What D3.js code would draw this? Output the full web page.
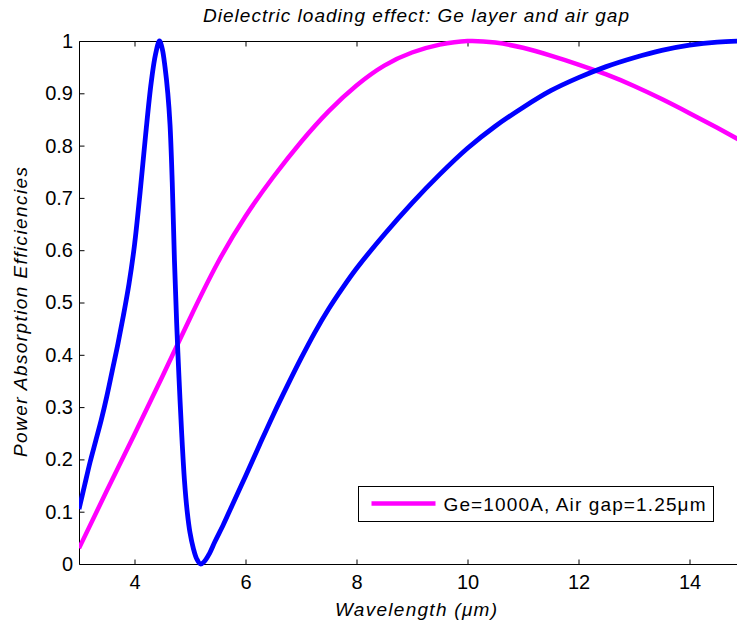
<!DOCTYPE html>
<html>
<head>
<meta charset="utf-8">
<script src="https://cdn.jsdelivr.net/npm/d3@7"></script>
<style>
  html, body { margin: 0; padding: 0; background: #fff; }
  svg { display: block; }
  text { font-family: "Liberation Sans", Arial, sans-serif; fill: #000; }
</style>
</head>
<body>
<svg id="chart" width="737" height="622"></svg>
<script>
// Wavelength samples (µm) and absorption efficiencies of the two structures
const blueX = [3.0, 3.1, 3.2, 3.3, 3.4, 3.5, 3.6, 3.7, 3.8, 3.9, 4.0, 4.1, 4.2, 4.3, 4.38, 4.45, 4.5, 4.55, 4.6, 4.64,
  4.68, 4.72, 4.76, 4.8, 4.85, 4.9, 4.95, 5.0, 5.06, 5.12, 5.19, 5.26, 5.35, 5.45, 5.6, 5.75, 6.0, 6.25, 6.5, 6.75,
  7.0, 7.25, 7.5, 7.75, 8.0, 8.5, 9.0, 9.5, 10.0, 10.5, 11.0, 11.5, 12.0, 12.5, 13.0, 13.5, 14.0, 14.5, 15.0];
const blueY = [0.105, 0.15, 0.195, 0.235, 0.275, 0.32, 0.37, 0.42, 0.475, 0.535, 0.61, 0.71, 0.82, 0.92, 0.975, 1.0,
  0.985, 0.95, 0.9, 0.84, 0.73, 0.58, 0.46, 0.36, 0.25, 0.16, 0.1, 0.06, 0.03, 0.01, 0.0, 0.005, 0.02, 0.043, 0.075,
  0.11, 0.168, 0.227, 0.285, 0.34, 0.393, 0.443, 0.488, 0.528, 0.565, 0.63, 0.69, 0.745, 0.795, 0.837, 0.873, 0.905,
  0.93, 0.951, 0.968, 0.982, 0.992, 0.998, 1.0];

const magX = [3.0, 3.5, 4.0, 4.5, 5.0, 5.5, 6.0, 6.5, 7.0, 7.5, 8.0, 8.5, 9.0, 9.5, 10.0, 10.5, 11.0, 11.5, 12.0,
  12.5, 13.0, 13.5, 14.0, 14.5, 15.0];
const magY = [0.03, 0.14, 0.248, 0.358, 0.47, 0.576, 0.665, 0.74, 0.807, 0.866, 0.915, 0.953, 0.978, 0.993, 1.0, 0.997,
  0.987, 0.972, 0.955, 0.936, 0.914, 0.889, 0.862, 0.834, 0.805];

const xTicks = [4, 6, 8, 10, 12, 14];
const yTicks = [0, 0.1, 0.2, 0.3, 0.4, 0.5, 0.6, 0.7, 0.8, 0.9, 1];

const titleText = "Dielectric loading effect: Ge layer and air gap";
const xLabel = "Wavelength (\u03bcm)";
const yLabel = "Power Absorption Efficiencies";
const legendLabel = "Ge=1000A, Air gap=1.25\u03bcm";

const svg = d3.select("#chart");
const plotL = 79, plotR = 745, plotT = 41, plotB = 564;

const x = d3.scaleLinear().domain([3, 15]).range([plotL, plotR]);
const y = d3.scaleLinear().domain([0, 1]).range([plotB, plotT]);

svg.append("defs").append("clipPath").attr("id", "plotclip")
  .append("rect").attr("x", plotL).attr("y", plotT - 3).attr("width", plotR - plotL).attr("height", plotB - plotT + 6);

// frame: left, top and bottom edges
svg.append("path")
  .attr("d", `M${plotR},${plotT + 0.5}H${plotL + 0.5}V${plotB + 0.5}H${plotR}`)
  .attr("fill", "none").attr("stroke", "#000").attr("stroke-width", 1);

// bottom axis (ticks pointing inward)
const xAxis = svg.append("g").attr("transform", `translate(0,${plotB + 0.5})`)
  .call(d3.axisBottom(x).tickValues(xTicks).tickSizeInner(-5).tickSizeOuter(0).tickPadding(10.5).tickFormat(d3.format("d")));
xAxis.select(".domain").remove();
xAxis.selectAll("text").attr("font-size", 20).attr("font-family", "Liberation Sans, Arial, sans-serif");

// top mirrored ticks
svg.append("g").attr("transform", `translate(0,${plotT + 0.5})`)
  .call(d3.axisTop(x).tickValues(xTicks).tickSizeInner(-5).tickSizeOuter(0).tickFormat(""))
  .select(".domain").remove();

// left axis
const yAxis = svg.append("g").attr("transform", `translate(${plotL + 0.5},0)`)
  .call(d3.axisLeft(y).tickValues(yTicks).tickSizeInner(-5).tickSizeOuter(0).tickPadding(6.5).tickFormat(d3.format("~g")));
yAxis.select(".domain").remove();
yAxis.selectAll("text").attr("font-size", 20).attr("font-family", "Liberation Sans, Arial, sans-serif");

// curves
const px = d => x(d[0]), py = d => y(d[1]);
const magLine = d3.line().x(px).y(py).curve(d3.curveNatural);
const blueLine = d3.line().x(px).y(py).curve(d3.curveCatmullRom.alpha(0.5));
const plot = svg.append("g").attr("clip-path", "url(#plotclip)");
plot.append("path").datum(d3.zip(magX, magY))
  .attr("d", magLine).attr("fill", "none").attr("stroke", "#ff00ff").attr("stroke-width", 4.5).attr("stroke-linejoin", "round");
plot.append("path").datum(d3.zip(blueX, blueY))
  .attr("d", blueLine).attr("fill", "none").attr("stroke", "#0000ff").attr("stroke-width", 4.8).attr("stroke-linejoin", "round");

// title and axis labels
svg.append("text").attr("x", 416).attr("y", 22).attr("text-anchor", "middle")
  .attr("font-size", 19).attr("font-style", "italic")
  .attr("textLength", 426).attr("lengthAdjust", "spacing").text(titleText);
svg.append("text").attr("x", 416).attr("y", 616).attr("text-anchor", "middle")
  .attr("font-size", 19).attr("font-style", "italic")
  .attr("textLength", 162).attr("lengthAdjust", "spacing").text(xLabel);
svg.append("text").attr("transform", "translate(27,312) rotate(-90)").attr("text-anchor", "middle")
  .attr("font-size", 19).attr("font-style", "italic")
  .attr("textLength", 290).attr("lengthAdjust", "spacing").text(yLabel);

// legend
const lg = svg.append("g").attr("transform", "translate(358.5,486.5)");
lg.append("rect").attr("width", 355).attr("height", 35).attr("fill", "#fff").attr("stroke", "#000").attr("stroke-width", 1);
lg.append("line").attr("x1", 13).attr("x2", 77).attr("y1", 17).attr("y2", 17)
  .attr("stroke", "#ff00ff").attr("stroke-width", 4.5);
lg.append("text").attr("x", 85).attr("y", 24).attr("font-size", 19)
  .attr("textLength", 262).attr("lengthAdjust", "spacing").text(legendLabel);
</script>
</body>
</html>
